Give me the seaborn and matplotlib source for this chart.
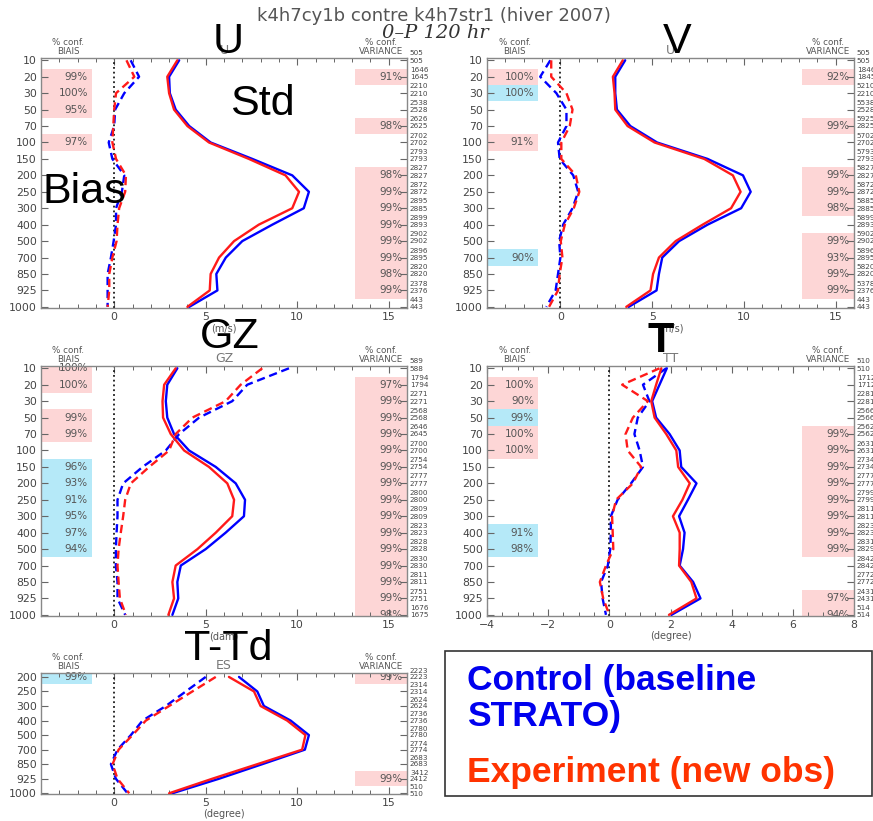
import matplotlib
matplotlib.use('Agg')
import matplotlib.pyplot as plt
import seaborn as sns
import pandas as pd
from matplotlib.ticker import MultipleLocator
from matplotlib.patches import Rectangle

# ---------------- data ----------------
levels = [10, 20, 30, 50, 70, 100, 150, 200, 250, 300, 400, 500, 700, 850, 925, 1000]
levels_es = [200, 250, 300, 400, 500, 700, 850, 925, 1000]

u_std_ctl = [3.55, 3.0, 3.04, 3.36, 4.1, 5.27, 7.55, 9.73, 10.64, 10.36, 8.64, 7.0, 6.1, 5.58, 5.64, 4.1]
u_std_exp = [3.45, 2.9, 3.0, 3.27, 4.0, 5.18, 7.36, 9.36, 10.1, 9.73, 7.9, 6.55, 5.73, 5.27, 5.22, 4.0]
u_bias_ctl = [0.9, 1.36, 0.55, 0.05, 0.0, -0.3, -0.1, 0.55, 0.42, 0.1, 0.1, -0.03, -0.18, -0.36, -0.36, -0.36]
u_bias_exp = [0.67, 1.1, 0.1, 0.0, -0.05, -0.1, 0.1, 0.64, 0.6, 0.27, 0.18, 0.13, -0.1, -0.27, -0.27, -0.36]

v_std_ctl = [3.53, 2.99, 2.99, 3.08, 3.81, 5.27, 8.02, 9.95, 10.37, 9.85, 8.02, 6.47, 5.55, 5.37, 5.24, 3.72]
v_std_exp = [3.4, 2.86, 2.95, 2.99, 3.66, 5.13, 7.84, 9.4, 9.82, 9.3, 7.75, 6.28, 5.37, 5.05, 4.91, 3.59]
v_bias_ctl = [-0.55, -1.1, -0.22, 0.33, 0.33, -0.13, -0.04, 0.7, 0.97, 0.66, 0.15, -0.07, 0.0, -0.13, -0.26, -0.77]
v_bias_exp = [-0.5, -0.5, 0.33, 0.66, 0.51, 0.05, 0.05, 0.84, 1.03, 0.73, 0.24, 0.02, 0.11, -0.04, -0.13, -0.62]

gz_std_ctl = [3.45, 2.9, 2.82, 2.9, 3.27, 4.09, 5.55, 6.64, 7.15, 7.09, 6.09, 5.0, 3.64, 3.45, 3.5, 3.18]
gz_std_exp = [3.36, 2.73, 2.64, 2.67, 3.09, 3.82, 5.18, 6.18, 6.55, 6.45, 5.55, 4.55, 3.36, 3.18, 3.27, 2.96]
gz_bias_ctl = [9.55, 7.27, 6.45, 4.64, 3.55, 2.82, 1.55, 0.49, 0.18, 0.18, 0.13, 0.09, 0.09, 0.18, 0.18, 0.6]
gz_bias_exp = [8.09, 6.91, 6.09, 4.27, 3.36, 3.0, 1.91, 0.91, 0.6, 0.49, 0.36, 0.24, 0.18, 0.24, 0.31, 0.64]

t_std_ctl = [1.88, 1.64, 1.40, 1.53, 1.97, 2.3, 2.35, 2.85, 2.57, 2.28, 2.46, 2.41, 2.3, 2.74, 2.98, 2.03]
t_std_exp = [1.70, 1.53, 1.37, 1.48, 1.86, 2.19, 2.25, 2.63, 2.39, 2.08, 2.3, 2.3, 2.28, 2.68, 2.85, 1.95]
t_bias_ctl = [1.86, 1.1, 1.31, 0.93, 0.82, 0.99, 1.1, 0.71, 0.27, 0.05, 0.05, 0.03, -0.05, -0.27, -0.22, -0.11]
t_bias_exp = [1.64, 0.42, 1.26, 0.77, 0.53, 0.6, 1.04, 0.77, 0.22, 0.09, 0.11, 0.13, -0.11, -0.31, -0.2, 0.0]

es_std_ctl = [6.82, 7.82, 8.18, 9.64, 10.64, 10.42, 8.09, 5.73, 3.18]
es_std_exp = [6.27, 7.64, 8.0, 9.45, 10.45, 10.27, 7.82, 5.36, 3.0]
es_bias_ctl = [5.0, 3.91, 2.82, 1.55, 0.91, 0.18, -0.18, 0.09, 0.73]
es_bias_exp = [5.55, 4.27, 3.0, 1.73, 1.0, 0.24, -0.09, 0.18, 0.82]

# confidence boxes: (level, colour, label)
u_conf_bias = [(20, 'p', '99%'), (30, 'p', '100%'), (50, 'p', '95%'), (100, 'p', '97%')]
u_conf_var = [(20, 'p', '91%'), (70, 'p', '98%'), (200, 'p', '98%'), (250, 'p', '99%'), (300, 'p', '99%'),
              (400, 'p', '99%'), (500, 'p', '99%'), (700, 'p', '99%'), (850, 'p', '98%'), (925, 'p', '99%')]
v_conf_bias = [(20, 'p', '100%'), (30, 'c', '100%'), (100, 'p', '91%'), (700, 'c', '90%')]
v_conf_var = [(20, 'p', '92%'), (70, 'p', '99%'), (200, 'p', '99%'), (250, 'p', '99%'), (300, 'p', '98%'),
              (500, 'p', '99%'), (700, 'p', '93%'), (850, 'p', '99%'), (925, 'p', '99%')]
gz_conf_bias = [(10, 'p', '100%'), (20, 'p', '100%'), (50, 'p', '99%'), (70, 'p', '99%'), (150, 'c', '96%'),
                (200, 'c', '93%'), (250, 'c', '91%'), (300, 'c', '95%'), (400, 'c', '97%'), (500, 'c', '94%')]
gz_conf_var = [(20, 'p', '97%'), (30, 'p', '99%'), (50, 'p', '99%'), (70, 'p', '99%'), (100, 'p', '99%'),
               (150, 'p', '99%'), (200, 'p', '99%'), (250, 'p', '99%'), (300, 'p', '99%'), (400, 'p', '99%'),
               (500, 'p', '99%'), (700, 'p', '99%'), (850, 'p', '99%'), (925, 'p', '99%'), (1000, 'p', '98%')]
t_conf_bias = [(20, 'p', '100%'), (30, 'p', '90%'), (50, 'c', '99%'), (70, 'p', '100%'), (100, 'p', '100%'),
               (400, 'c', '91%'), (500, 'c', '98%')]
t_conf_var = [(70, 'p', '99%'), (100, 'p', '99%'), (150, 'p', '99%'), (200, 'p', '99%'), (250, 'p', '99%'),
              (300, 'p', '99%'), (400, 'p', '99%'), (500, 'p', '99%'), (925, 'p', '97%'), (1000, 'p', '94%')]
es_conf_bias = [(200, 'c', '99%')]
es_conf_var = [(200, 'p', '99%'), (925, 'p', '99%')]

# number of observations per level (two rows)
u_nobs_top = [505, 1646, 2210, 2538, 2626, 2702, 2793, 2827, 2872, 2895, 2899, 2902, 2896, 2820, 2378, 443]
u_nobs_bot = [505, 1645, 2210, 2528, 2625, 2702, 2793, 2827, 2872, 2885, 2893, 2902, 2895, 2820, 2376, 443]
v_nobs_top = [505, 1846, 5210, 5538, 5925, 5702, 5793, 5827, 5872, 5885, 5899, 5902, 5896, 5820, 5378, 443]
v_nobs_bot = [505, 1845, 2210, 2528, 2825, 2702, 2793, 2827, 2872, 2885, 2893, 2902, 2895, 2820, 2376, 443]
gz_nobs_top = [589, 1794, 2271, 2568, 2646, 2700, 2754, 2777, 2800, 2809, 2823, 2828, 2830, 2811, 2751, 1676]
gz_nobs_bot = [588, 1794, 2271, 2568, 2645, 2700, 2754, 2777, 2800, 2809, 2823, 2828, 2830, 2811, 2751, 1675]
t_nobs_top = [510, 1712, 2281, 2566, 2562, 2631, 2734, 2777, 2799, 2811, 2823, 2831, 2842, 2772, 2431, 514]
t_nobs_bot = [510, 1712, 2281, 2566, 2562, 2631, 2734, 2777, 2799, 2811, 2823, 2829, 2842, 2772, 2431, 514]
es_nobs_top = [2223, 2314, 2624, 2736, 2780, 2774, 2683, 3412, 510]
es_nobs_bot = [2223, 2314, 2624, 2736, 2780, 2774, 2683, 2412, 510]

# ---------------- style ----------------
sns.set_theme(style='white')
plt.rcParams['font.family'] = ['DejaVu Sans']

W, H = 873, 821
fig = plt.figure(figsize=(W / 100, H / 100), dpi=100)

BLUE = '#0000ff'
RED = '#ff1a1a'
BOXC = {'p': '#fdd6d6', 'c': '#b5e9f8'}
GRAY = '#444444'


def rect(l, t, r, b):
    return [l / W, 1 - b / H, (r - l) / W, (b - t) / H]


def panel(r, lev, sc, se, bc, be, xlim, major, minor, title, unit,
          cb, cv, ntop, nbot, ylim):
    ax = fig.add_axes(r)
    pos = list(range(len(lev)))
    idx = {l: i for i, l in enumerate(lev)}
    rows = []
    for vals, run, stat in [(sc, 'Control', 'std'), (bc, 'Control', 'bias'),
                            (se, 'Experiment', 'std'), (be, 'Experiment', 'bias')]:
        for p, v in zip(pos, vals):
            rows.append(dict(pos=p, value=v, run=run, stat=stat))
    df = pd.DataFrame(rows)
    sns.lineplot(data=df, x='value', y='pos', hue='run', style='stat',
                 palette={'Control': BLUE, 'Experiment': RED},
                 dashes={'std': '', 'bias': (3.5, 2)},
                 sort=False, estimator=None, orient='y', lw=1.7,
                 legend=False, ax=ax, zorder=3)
    ax.axvline(0, color='k', ls=':', lw=1.3, zorder=2)

    ytr = ax.get_yaxis_transform()
    for lv, c, txt in cb:
        p = idx[lv]
        ax.axhspan(p - 0.5, p + 0.5, xmin=0, xmax=0.14, color=BOXC[c], lw=0, zorder=0)
        ax.text(0.128, p, txt, transform=ytr, ha='right', va='center',
                fontsize=7.5, color='#555555', zorder=1)
    for lv, c, txt in cv:
        p = idx[lv]
        ax.axhspan(p - 0.5, p + 0.5, xmin=0.858, xmax=1.0, color=BOXC[c], lw=0, zorder=0)
        ax.text(0.987, p, txt, transform=ytr, ha='right', va='center',
                fontsize=7.5, color='#555555', zorder=1, clip_on=True)
    for p, a, b in zip(pos, ntop, nbot):
        ax.text(1.008, p - 0.42, str(a), transform=ytr, ha='left', va='center',
                fontsize=5.2, color=GRAY)
        ax.text(1.008, p + 0.02, str(b), transform=ytr, ha='left', va='center',
                fontsize=5.2, color=GRAY)

    ax.set_xlim(*xlim)
    ax.set_ylim(*ylim)
    ax.set_yticks(pos)
    ax.set_yticklabels([str(l) for l in lev])
    ax.xaxis.set_major_locator(MultipleLocator(major))
    ax.xaxis.set_minor_locator(MultipleLocator(minor))
    ax.tick_params(axis='both', which='major', direction='in', length=5, width=0.8,
                   color='#666666', labelcolor=GRAY, labelsize=7.8,
                   top=True, bottom=True, left=True, right=True, pad=3)
    ax.tick_params(axis='x', which='minor', direction='in', length=3, width=0.7,
                   color='#666666', top=True, bottom=True)
    ax.set_xlabel('')
    ax.set_ylabel('')
    for s in ax.spines.values():
        s.set_color('#888888')
        s.set_linewidth(1.0)

    ax.annotate(title, xy=(0.5, 1), xycoords='axes fraction', xytext=(0, 1),
                textcoords='offset points', ha='center', va='bottom',
                fontsize=9, color='#777777')
    ax.annotate('% conf.\nBIAIS', xy=(0.075, 1), xycoords='axes fraction', xytext=(0, 1.5),
                textcoords='offset points', ha='center', va='bottom',
                fontsize=6.3, color='#555555', linespacing=1.05)
    ax.annotate('% conf.\nVARIANCE', xy=(0.93, 1), xycoords='axes fraction', xytext=(0, 1.5),
                textcoords='offset points', ha='center', va='bottom',
                fontsize=6.3, color='#555555', linespacing=1.05)
    ax.annotate(unit, xy=(0.5, 0), xycoords='axes fraction', xytext=(0, -14.5),
                textcoords='offset points', ha='center', va='center',
                fontsize=7, color='#555555')
    return ax


ylim16 = (15.07, -0.14)
panel(rect(41, 58, 407, 308), levels, u_std_ctl, u_std_exp, u_bias_ctl, u_bias_exp,
      (-4, 16), 5, 1, 'U', '(m/s)', u_conf_bias, u_conf_var, u_nobs_top, u_nobs_bot, ylim16)
panel(rect(487, 58, 854, 308), levels, v_std_ctl, v_std_exp, v_bias_ctl, v_bias_exp,
      (-4, 16), 5, 1, 'U', '(m/s)', v_conf_bias, v_conf_var, v_nobs_top, v_nobs_bot, ylim16)
panel(rect(41, 366, 407, 616), levels, gz_std_ctl, gz_std_exp, gz_bias_ctl, gz_bias_exp,
      (-4, 16), 5, 1, 'GZ', '(dam)', gz_conf_bias, gz_conf_var, gz_nobs_top, gz_nobs_bot, ylim16)
panel(rect(487, 366, 854, 616), levels, t_std_ctl, t_std_exp, t_bias_ctl, t_bias_exp,
      (-4, 8), 2, 0.5, 'TT', '(degree)', t_conf_bias, t_conf_var, t_nobs_top, t_nobs_bot, ylim16)
panel(rect(41, 673, 407, 794), levels_es, es_std_ctl, es_std_exp, es_bias_ctl, es_bias_exp,
      (-4, 16), 5, 1, 'ES', '(degree)', es_conf_bias, es_conf_var, es_nobs_top, es_nobs_bot, (8.05, -0.27))

# titles
fig.text(434 / W, 1 - 16 / H, 'k4h7cy1b contre k4h7str1 (hiver 2007)', ha='center', va='center',
         fontsize=13, color='#555555')
fig.text(435 / W, 1 - 33 / H, '0\u2013P 120 hr', ha='center', va='center', fontsize=14,
         family='DejaVu Serif', style='italic', color='#333333')

# big overlay labels
big = dict(fontsize=31, family='Liberation Sans', color='black', va='baseline', zorder=10)
fig.text(228 / W, 1 - 53 / H, 'U', ha='center', **big)
fig.text(262 / W, 1 - 115 / H, 'Std', ha='center', **big)
fig.text(42 / W, 1 - 203 / H, 'Bias', ha='left', **big)
fig.text(677 / W, 1 - 53 / H, 'V', ha='center', **big)
fig.text(230 / W, 1 - 348 / H, 'GZ', ha='center', **big)
fig.text(661 / W, 1 - 352 / H, 'T', ha='center', fontweight='bold', **big)
fig.text(228 / W, 1 - 660 / H, 'T-Td', ha='center', **big)

# legend box
fig.patches.append(Rectangle((445 / W, 1 - 796 / H), (872 - 445) / W, (796 - 651) / H,
                             transform=fig.transFigure, facecolor='white', edgecolor='#333333',
                             lw=1.2, zorder=5))
leg = dict(fontsize=25.5, family='Liberation Sans', fontweight='bold', va='baseline', ha='left', zorder=11)
fig.text(467 / W, 1 - 690 / H, 'Control (baseline', color='#0000ee', **leg)
fig.text(467 / W, 1 - 726 / H, 'STRATO)', color='#0000ee', **leg)
fig.text(467 / W, 1 - 782 / H, 'Experiment (new obs)', color='#ff3300', **leg)

fig.savefig('out.png', dpi=100)
